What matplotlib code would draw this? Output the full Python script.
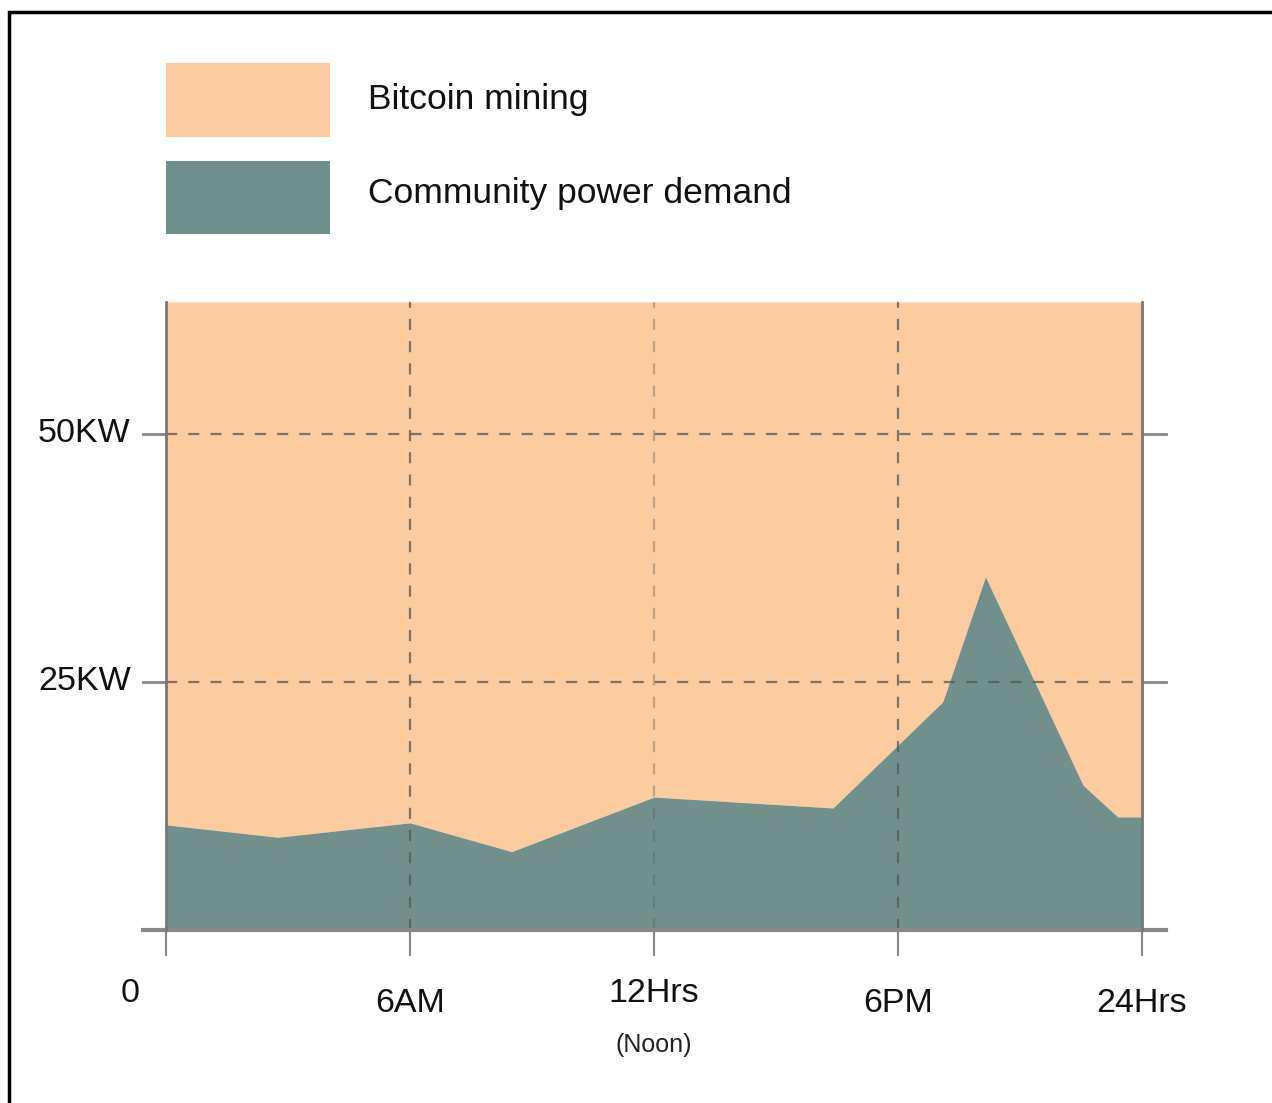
import matplotlib.pyplot as plt
from matplotlib.patches import Rectangle

plt.rcParams['font.family'] = ['Liberation Sans', 'DejaVu Sans']

# Hourly community load (KW) across one day
hours = [0, 2.75, 6, 8.5, 12, 16.4, 19.1, 20.15, 22.55, 23.4, 24]
community_kw = [10.6, 9.35, 10.8, 7.9, 13.4, 12.3, 23.0, 35.6, 14.6, 11.4, 11.4]
capacity_kw = 63.3

x_ticks = [0, 6, 12, 18, 24]
x_labels = ['0', '6AM', '12Hrs', '6PM', '24Hrs']
y_ticks = [25, 50]
y_labels = ['25KW', '50KW']

orange = '#fdcba0'
green = '#72908b'
grid_c = '#555555'

fig = plt.figure(figsize=(12.72, 11.03), dpi=100)
ax = fig.add_axes([166 / 1272, 1 - 930 / 1103, 976 / 1272, 628 / 1103])

ax.fill_between(hours, community_kw, capacity_kw, color=orange, lw=0)
ax.fill_between(hours, 0, community_kw, color=green, lw=0)
ax.set_xlim(0, 24)
ax.set_ylim(0, capacity_kw)

# dashed guides
for y in y_ticks:
    ax.axhline(y, color=grid_c, lw=1.6, ls=(0, (5, 5)), alpha=0.75)
for x in x_ticks[1:-1]:
    ax.axvline(x, color=grid_c, lw=1.6, ls=(0, (5, 5)),
               alpha=0.35 if x == 12 else 0.75)

ax.spines['top'].set_visible(False)
ax.spines['bottom'].set_visible(False)
for s in ['left', 'right']:
    ax.spines[s].set_color('#777777')
    ax.spines[s].set_linewidth(2)
ax.set_xticks([])
ax.set_yticks([])

# axis lines and tick stubs extending past the plot edges
kw = dict(transform=ax.transData, clip_on=False, color='#888888')
ax.plot([-0.57, 24.6], [0, 0], lw=3, **kw)
for y in y_ticks:
    ax.plot([-0.57, 0], [y, y], lw=2, **kw)
    ax.plot([24, 24.6], [y, y], lw=2, **kw)
for x in x_ticks:
    ax.plot([x, x], [0, -2.5], lw=1.5, **kw)

for x, lab in zip(x_ticks, x_labels):
    dy = -6.4 if lab in ('0', '12Hrs') else -7.4
    ax.text(x if lab != '0' else -0.87, dy, lab, ha='center', va='center',
            fontsize=24.5, color='#111111')
ax.text(12, -11.6, '(Noon)', ha='center', va='center', fontsize=18,
        color='#222222')
for y, lab in zip(y_ticks, y_labels):
    ax.text(-0.87, y, lab, ha='right', va='center', fontsize=24.5,
            color='#111111')

# legend swatches
fig.patches.append(Rectangle((166 / 1272, 1 - 137 / 1103), 164 / 1272,
                             74 / 1103, transform=fig.transFigure,
                             color=orange, lw=0))
fig.patches.append(Rectangle((166 / 1272, 1 - 234 / 1103), 164 / 1272,
                             73 / 1103, transform=fig.transFigure,
                             color=green, lw=0))
fig.text(368 / 1272, 1 - 99 / 1103, 'Bitcoin mining', va='center',
         fontsize=25.5, color='#111111')
fig.text(368 / 1272, 1 - 194 / 1103, 'Community power demand', va='center',
         fontsize=25.5, color='#111111')

# outer frame
fig.patches.append(Rectangle((9 / 1272, -0.1), 1.2, 1.1 - 12 / 1103,
                             transform=fig.transFigure, fill=False,
                             ec='black', lw=2.5))

fig.savefig('out.png', dpi=100)
